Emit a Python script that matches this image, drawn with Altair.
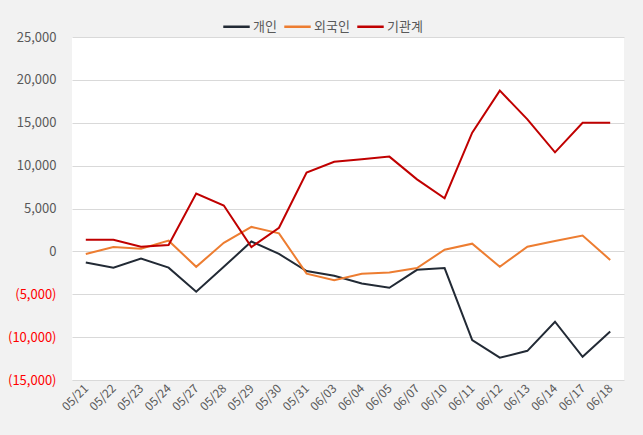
import altair as alt
import pandas as pd

dates = ["05/21", "05/22", "05/23", "05/24", "05/27", "05/28", "05/29", "05/30", "05/31",
         "06/03", "06/04", "06/05", "06/07", "06/10", "06/11", "06/12", "06/13", "06/14",
         "06/17", "06/18"]
individual = [-1300, -1900, -850, -1900, -4700, -1800, 1150, -300, -2300,
              -2850, -3750, -4250, -2150, -1950, -10350, -12400, -11600, -8200,
              -12300, -9350]
foreign = [-300, 500, 300, 1250, -1800, 1000, 2850, 2100, -2600,
           -3350, -2600, -2450, -1950, 200, 900, -1800, 550, 1200,
           1850, -1000]
institution = [1350, 1350, 550, 750, 6750, 5350, 500, 2750, 9200,
               10450, 10750, 11050, 8400, 6200, 13850, 18750, 15400, 11550,
               15000, 15000]
series_names = ["개인", "외국인", "기관계"]
series_colors = ["#222A35", "#ED7D31", "#C00000"]

rows = []
for name, vals in zip(series_names, [individual, foreign, institution]):
    for d, v in zip(dates, vals):
        rows.append({"date": d, "series": name, "value": v})
df = pd.DataFrame(rows)

FONT = "Noto Sans CJK KR"
GRAY = "#595959"

chart = alt.Chart(df).mark_line(strokeWidth=2).encode(
    x=alt.X("date:N", sort=dates, title=None,
            scale=alt.Scale(type="point", padding=0.5),
            axis=alt.Axis(labelAngle=315, labelFontSize=12, labelColor=GRAY,
                          labelFont=FONT, ticks=False, domain=False, grid=False,
                          labelPadding=6, labelAlign="right", labelBaseline="middle")),
    y=alt.Y("value:Q", title=None,
            scale=alt.Scale(domain=[-15000, 25000], nice=False),
            axis=alt.Axis(values=list(range(-15000, 25001, 5000)),
                          labelExpr="datum.value < 0 ? '(' + format(-datum.value, ',') + ')' : format(datum.value, ',')",
                          labelColor=alt.condition("datum.value < 0", alt.value("#FF0000"), alt.value(GRAY)),
                          labelFontSize=13, labelFont=FONT, labelPadding=16,
                          ticks=False, domain=False, gridColor="#D9D9D9", gridWidth=1)),
    color=alt.Color("series:N", sort=series_names,
                    scale=alt.Scale(domain=series_names, range=series_colors),
                    legend=alt.Legend(title=None, orient="none", direction="horizontal",
                                      legendX=150, legendY=-25,
                                      symbolType="stroke", symbolSize=700, symbolStrokeWidth=2.5,
                                      labelFontSize=13, labelColor=GRAY, labelFont=FONT,
                                      labelOffset=2, columnPadding=2)),
).properties(
    width=552, height=343,
    autosize=alt.AutoSizeParams(type="none"),
    padding={"left": 72, "top": 37, "right": 19, "bottom": 55},
    background="#F2F2F2",
).configure_view(fill="white", stroke=None)

chart.save("out.html", embed_options={"renderer": "svg", "actions": False})
